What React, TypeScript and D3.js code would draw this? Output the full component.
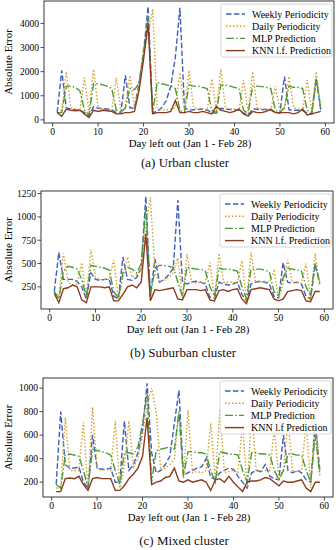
import * as d3 from "d3";

const days: number[] = d3.range(1, 60);

const seriesNames = ["Weekly Periodicity", "Daily Periodicity", "MLP Prediction", "KNN l.f. Prediction"];
const seriesNamesMixed = ["Weekly Periodicity", "Daily Periodicity", "MLP Prediction", "KNN l.f Prediction"];
const colors = ["#3f5fbf", "#d4a02a", "#4f9a34", "#8b3b1e"];
const dashes = ["5.5,2.4", "1.5,2", "8,2.2,1.5,2.2", ""];

// (a) Urban
const urbanWeekly = [300, 2050, 500, 450, 420, 400, 300, 150, 550, 480, 470, 450, 420, 300, 280, 1850, 500, 480, 1500, 2800, 4700, 300, 350, 500, 800, 1400, 2600, 4650, 500, 400, 420, 430, 450, 400, 300, 280, 480, 450, 430, 420, 400, 280, 200, 450, 440, 420, 430, 400, 300, 280, 1800, 420, 400, 400, 380, 280, 250, 1700, 400];
const urbanDaily = [300, 400, 2000, 500, 450, 400, 1750, 300, 2100, 500, 450, 400, 350, 1750, 400, 500, 1850, 500, 1500, 3000, 3500, 4600, 500, 400, 420, 450, 500, 1950, 400, 2050, 500, 450, 450, 400, 1700, 400, 2100, 500, 450, 450, 400, 1650, 350, 2000, 500, 450, 450, 400, 1400, 400, 500, 1800, 500, 450, 400, 1650, 350, 2000, 500];
const urbanMlp = [300, 300, 1400, 1400, 1350, 1200, 400, 200, 1500, 1500, 1450, 1400, 1300, 400, 300, 500, 1300, 1250, 1500, 2700, 4300, 300, 1550, 1500, 1450, 1400, 1300, 400, 300, 1450, 1400, 1400, 1350, 1300, 400, 300, 1450, 1450, 1400, 1350, 1300, 400, 250, 1400, 1400, 1380, 1350, 1300, 400, 300, 500, 1400, 1350, 1350, 1300, 400, 300, 1700, 450];
const urbanKnn = [300, 150, 450, 400, 380, 400, 250, 100, 400, 350, 400, 380, 350, 250, 250, 300, 300, 350, 1200, 2500, 4000, 250, 300, 300, 300, 350, 800, 300, 300, 350, 300, 300, 350, 300, 250, 550, 400, 350, 300, 350, 450, 250, 150, 350, 300, 300, 350, 450, 300, 300, 300, 300, 250, 300, 450, 200, 250, 300, 350];

// (b) Suburban
const suburbWeekly = [200, 620, 330, 330, 330, 310, 250, 120, 400, 330, 320, 330, 330, 150, 120, 570, 330, 320, 350, 450, 1220, 150, 550, 300, 330, 380, 450, 1180, 300, 280, 300, 310, 300, 280, 140, 130, 300, 280, 270, 280, 300, 170, 100, 280, 300, 310, 300, 280, 150, 130, 510, 300, 290, 300, 280, 150, 120, 490, 300];
const suburbDaily = [200, 150, 610, 300, 270, 280, 510, 120, 650, 350, 330, 330, 330, 540, 120, 350, 570, 350, 380, 450, 900, 1210, 400, 300, 320, 350, 400, 560, 130, 600, 300, 290, 300, 290, 510, 120, 610, 300, 300, 300, 290, 530, 100, 620, 300, 300, 310, 300, 420, 130, 280, 540, 300, 300, 290, 500, 120, 610, 270];
const suburbMlp = [200, 120, 420, 470, 460, 440, 330, 150, 480, 470, 460, 450, 430, 200, 130, 400, 460, 440, 400, 500, 1100, 150, 450, 480, 480, 470, 460, 300, 150, 460, 450, 440, 440, 420, 250, 150, 450, 440, 440, 430, 420, 250, 120, 440, 440, 440, 430, 410, 200, 150, 350, 450, 440, 430, 420, 250, 150, 500, 280];
const suburbKnn = [180, 80, 230, 240, 270, 250, 110, 80, 250, 250, 250, 240, 250, 100, 100, 170, 250, 270, 240, 300, 820, 100, 220, 210, 220, 230, 240, 120, 110, 220, 220, 220, 210, 220, 110, 100, 210, 220, 200, 220, 230, 120, 70, 220, 230, 240, 230, 220, 120, 100, 120, 200, 210, 220, 210, 100, 90, 200, 200];

// (c) Mixed
const mixedWeekly = [180, 800, 350, 320, 320, 330, 200, 150, 600, 320, 310, 310, 320, 200, 200, 720, 300, 350, 450, 650, 1040, 450, 280, 300, 350, 420, 700, 980, 260, 280, 300, 320, 330, 400, 240, 230, 280, 300, 320, 310, 250, 200, 150, 280, 300, 290, 350, 250, 230, 220, 600, 300, 280, 300, 280, 220, 200, 700, 300];
const mixedDaily = [150, 150, 750, 300, 300, 300, 710, 130, 840, 320, 300, 310, 300, 720, 150, 330, 720, 330, 400, 600, 850, 1000, 800, 300, 320, 350, 400, 800, 230, 810, 280, 290, 280, 300, 700, 200, 820, 280, 290, 300, 280, 700, 150, 800, 300, 290, 300, 300, 650, 230, 300, 730, 300, 290, 300, 720, 150, 800, 260];
const mixedMlp = [180, 150, 430, 440, 430, 420, 300, 150, 480, 470, 460, 450, 430, 300, 180, 450, 450, 440, 500, 700, 950, 200, 470, 480, 490, 500, 480, 800, 250, 460, 460, 450, 450, 440, 300, 200, 460, 450, 440, 440, 430, 300, 200, 450, 450, 440, 440, 430, 300, 220, 300, 440, 440, 430, 430, 300, 200, 600, 260];
const mixedKnn = [120, 120, 230, 235, 230, 250, 180, 130, 230, 240, 230, 230, 230, 130, 130, 170, 230, 270, 320, 420, 750, 180, 200, 210, 240, 250, 320, 210, 200, 220, 200, 210, 220, 200, 130, 220, 230, 200, 250, 200, 160, 120, 200, 210, 210, 220, 240, 230, 200, 170, 210, 200, 200, 210, 220, 150, 120, 200, 200];

const xTicks = [0, 10, 20, 30, 40, 50, 60];
const urbanTicks = [0, 1000, 2000, 3000, 4000];
const suburbTicks = [250, 500, 750, 1000, 1250];
const mixedTicks = [200, 400, 600, 800, 1000];

const font = "'Liberation Serif', 'DejaVu Serif', serif";

interface PanelProps {
  top: number;
  left: number;
  right: number;
  height: number;
  series: number[][];
  names: string[];
  yTicks: number[];
  caption: string;
  captionGap: number;
}

const Panel = ({ top, left, right, height, series, names, yTicks, caption, captionGap }: PanelProps) => {
  const all = series.flat();
  const lo = d3.min(all) as number;
  const hi = d3.max(all) as number;
  const pad = (hi - lo) * 0.05;
  const x = d3.scaleLinear().domain([-1.9, 61.9]).range([left, right]);
  const y = d3.scaleLinear().domain([lo - pad, hi + pad]).range([top + height, top]);
  const line = d3
    .line<number>()
    .x((_, i) => x(days[i]))
    .y((d) => y(d));
  const bottom = top + height;
  const legX = right - 113;
  const legY = top + 3;
  return (
    <g>
      {series.map((s, i) => (
        <path
          key={i}
          d={line(s) ?? ""}
          fill="none"
          stroke={colors[i]}
          strokeWidth={1.4}
          strokeDasharray={dashes[i]}
        />
      ))}
      <rect x={left} y={top} width={right - left} height={height} fill="none" stroke="#222" strokeWidth={0.9} />
      {xTicks.map((t) => (
        <g key={t}>
          <line x1={x(t)} x2={x(t)} y1={bottom} y2={bottom + 3.5} stroke="#222" strokeWidth={0.8} />
          <text x={x(t)} y={bottom + 11.5} textAnchor="middle" fontSize={9.5} fontFamily={font} fill="#000">
            {t}
          </text>
        </g>
      ))}
      {yTicks.map((t) => (
        <g key={t}>
          <line x1={left - 3.5} x2={left} y1={y(t)} y2={y(t)} stroke="#222" strokeWidth={0.8} />
          <text x={left - 5} y={y(t) + 3.3} textAnchor="end" fontSize={9.5} fontFamily={font} fill="#000">
            {t}
          </text>
        </g>
      ))}
      <text
        transform={`translate(${12},${top + height / 2}) rotate(-90)`}
        textAnchor="middle"
        fontSize={11}
        fontFamily={font}
        fill="#000"
      >
        Absolute Error
      </text>
      <text x={(left + right) / 2 + 1} y={bottom + 23.5} textAnchor="middle" fontSize={10.8} fontFamily={font} fill="#000">
        Day left out (Jan 1 - Feb 28)
      </text>
      <text x={(left + right) / 2 - 4} y={bottom + captionGap} textAnchor="middle" fontSize={13} fontFamily={font} fill="#111">
        {caption}
      </text>
      <rect x={legX} y={legY} width={111} height={53} rx={2} fill="white" fillOpacity={0.8} stroke="#ccc" strokeWidth={0.8} />
      {names.map((n, i) => (
        <g key={n}>
          <line
            x1={legX + 5}
            x2={legX + 24}
            y1={legY + 10 + i * 12.2}
            y2={legY + 10 + i * 12.2}
            stroke={colors[i]}
            strokeWidth={1.4}
            strokeDasharray={dashes[i]}
          />
          <text x={legX + 31} y={legY + 13.5 + i * 12.2} fontSize={10} fontFamily={font} fill="#000">
            {n}
          </text>
        </g>
      ))}
    </g>
  );
};

const App = () => (
  <svg width={336} height={550} style={{ position: "absolute", left: 0, top: 0 }}>
    <rect width={336} height={550} fill="white" />
    <Panel
      top={1}
      left={44}
      right={334}
      height={122}
      series={[urbanWeekly, urbanDaily, urbanMlp, urbanKnn]}
      names={seriesNames}
      yTicks={urbanTicks}
      caption="(a)  Urban cluster"
      captionGap={44}
    />
    <Panel
      top={191}
      left={41}
      right={333}
      height={118}
      series={[suburbWeekly, suburbDaily, suburbMlp, suburbKnn]}
      names={seriesNames}
      yTicks={suburbTicks}
      caption="(b)  Suburban cluster"
      captionGap={48}
    />
    <Panel
      top={378}
      left={43}
      right={333}
      height={119}
      series={[mixedWeekly, mixedDaily, mixedMlp, mixedKnn]}
      names={seriesNamesMixed}
      yTicks={mixedTicks}
      caption="(c)  Mixed cluster"
      captionGap={48}
    />
  </svg>
);

export default App;
